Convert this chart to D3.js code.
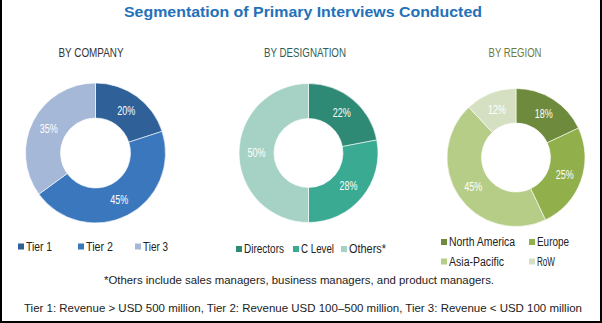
<!DOCTYPE html>
<html>
<head>
<meta charset="utf-8">
<script src="https://cdn.jsdelivr.net/npm/d3@7"></script>
<style>
  html, body { margin: 0; padding: 0; background: #fff; }
  svg { display: block; }
  text { font-family: "Liberation Sans", Arial, sans-serif; }
</style>
</head>
<body>
<svg id="chart" width="602" height="323"></svg>
<script>
// Chart data
const chartTitle = "Segmentation of Primary Interviews Conducted";

const companyTitle = "BY COMPANY";
const companyLabels = ["Tier 1", "Tier 2", "Tier 3"];
const companyValues = [20, 45, 35];
const companyColors = ["#2f6098", "#3b77bd", "#a6b8d8"];

const designationTitle = "BY DESIGNATION";
const designationLabels = ["Directors", "C Level", "Others*"];
const designationValues = [22, 28, 50];
const designationColors = ["#2f8a75", "#3aaa92", "#a6d2c5"];

const regionTitle = "BY REGION";
const regionLabels = ["North America", "Europe", "Asia-Pacific", "RoW"];
const regionValues = [18, 25, 45, 12];
const regionColors = ["#6e8a3c", "#91af4b", "#b6cd88", "#d5e0c2"];

const footnoteOthers = "*Others include sales managers, business managers, and product managers.";
const footnoteTiers = "Tier 1: Revenue > USD 500 million, Tier 2: Revenue USD 100\u2013500 million, Tier 3: Revenue < USD 100 million";

const svg = d3.select("#chart");
const W = 602, H = 323;

// Frame on the left, right and bottom edges
svg.append("path")
  .attr("d", `M1,0 V${H - 1} H${W - 1} V0`)
  .attr("fill", "none")
  .attr("stroke", "#000")
  .attr("stroke-width", 2);

svg.append("text")
  .attr("x", 303).attr("y", 17)
  .attr("text-anchor", "middle")
  .attr("font-size", 14.5)
  .attr("font-weight", "bold")
  .attr("fill", "#2471b9")
  .attr("textLength", 358)
  .attr("lengthAdjust", "spacingAndGlyphs")
  .text(chartTitle);

// Layout of the three donut panels; legend entries: [x of swatch, y, text width]
const panels = [
  { title: companyTitle, titleColor: "#333333", titleX: 91, titleW: 65,
    labels: companyLabels, values: companyValues, colors: companyColors,
    cx: 95.5, cy: 153, r: 70, ir: 35,
    legend: [[18, 246.5, 26], [78, 246.5, 27], [135, 246.5, 25]] },
  { title: designationTitle, titleColor: "#2e5f56", titleX: 305, titleW: 82,
    labels: designationLabels, values: designationValues, colors: designationColors,
    cx: 308.5, cy: 153, r: 69.5, ir: 34.5,
    legend: [[236, 249, 40], [293, 249, 33], [341, 249, 37]] },
  { title: regionTitle, titleColor: "#6f7b3a", titleX: 515, titleW: 53,
    labels: regionLabels, values: regionValues, colors: regionColors,
    cx: 516, cy: 157.5, r: 69, ir: 34.5,
    legend: [[441, 242, 66], [529, 242, 32], [441, 261.5, 55], [529, 261.5, 18]] }
];

const pie = d3.pie().sort(null).value(d => d.value);

panels.forEach(p => {
  svg.append("text")
    .attr("x", p.titleX).attr("y", 57)
    .attr("text-anchor", "middle")
    .attr("font-size", 12)
    .attr("fill", p.titleColor)
    .attr("textLength", p.titleW)
    .attr("lengthAdjust", "spacingAndGlyphs")
    .text(p.title);

  const data = p.labels.map((l, i) => ({ label: l, value: p.values[i], color: p.colors[i] }));
  const arc = d3.arc().innerRadius(p.ir).outerRadius(p.r);
  const g = svg.append("g").attr("transform", `translate(${p.cx},${p.cy})`);
  const arcs = pie(data);

  g.selectAll("path").data(arcs).join("path")
    .attr("d", arc)
    .attr("fill", d => d.data.color)
    .attr("stroke", "#fff")
    .attr("stroke-width", 0.6);

  g.selectAll("text").data(arcs).join("text")
    .attr("transform", d => `translate(${arc.centroid(d)})`)
    .attr("text-anchor", "middle")
    .attr("dy", "0.36em")
    .attr("font-size", 12)
    .attr("fill", "#fff")
    .attr("textLength", 18)
    .attr("lengthAdjust", "spacingAndGlyphs")
    .text(d => d.data.value + "%");

  // Legend
  const lg = svg.append("g");
  data.forEach((d, i) => {
    const [x, y, w] = p.legend[i];
    lg.append("rect")
      .attr("x", x).attr("y", y - 3)
      .attr("width", 6).attr("height", 6)
      .attr("fill", d.color);
    lg.append("text")
      .attr("x", x + 8).attr("y", y)
      .attr("dy", "0.36em")
      .attr("font-size", 12)
      .attr("fill", "#222")
      .attr("textLength", w)
      .attr("lengthAdjust", "spacingAndGlyphs")
      .text(d.label);
  });
});

svg.append("text")
  .attr("x", 299).attr("y", 284)
  .attr("text-anchor", "middle")
  .attr("font-size", 11.5)
  .attr("fill", "#222")
  .attr("textLength", 390)
  .attr("lengthAdjust", "spacingAndGlyphs")
  .text(footnoteOthers);

svg.append("text")
  .attr("x", 303).attr("y", 312)
  .attr("text-anchor", "middle")
  .attr("font-size", 11.5)
  .attr("fill", "#222")
  .attr("textLength", 558)
  .attr("lengthAdjust", "spacingAndGlyphs")
  .text(footnoteTiers);
</script>
</body>
</html>
